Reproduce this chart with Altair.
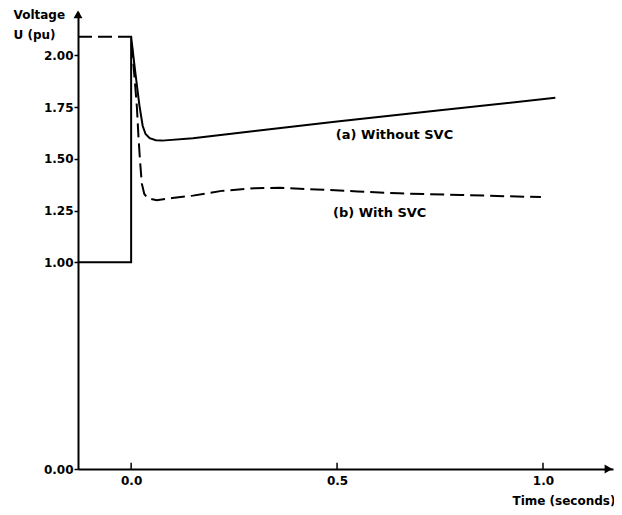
import altair as alt
import pandas as pd

# ---- data ----
# (a) Without SVC  (solid)
t_without = [-0.129, 0.0, 0.0, 0.01, 0.02, 0.028, 0.035, 0.045, 0.06, 0.075, 0.15, 0.3, 0.5, 0.75, 1.03]
u_without = [1.00, 1.00, 2.09, 1.92, 1.76, 1.66, 1.62, 1.60, 1.59, 1.588, 1.60, 1.635, 1.68, 1.735, 1.795]

# (b) With SVC  (dashed)
t_with = [-0.129, 0.0, 0.008, 0.014, 0.018, 0.022, 0.026, 0.032, 0.04, 0.062, 0.1, 0.15, 0.22, 0.3, 0.36, 0.45, 0.55, 0.65, 0.8, 0.995]
u_with = [2.09, 2.09, 1.90, 1.75, 1.60, 1.48, 1.38, 1.33, 1.31, 1.30, 1.31, 1.322, 1.345, 1.358, 1.36, 1.352, 1.342, 1.333, 1.325, 1.315]

y_ticks = [0.0, 1.0, 1.25, 1.5, 1.75, 2.0]
x_ticks = [0.0, 0.5, 1.0]

label_a = "(a) Without SVC"
label_b = "(b) With SVC"
label_a_pos = [0.782, 1.615]
label_b_pos = [0.49, 1.238]

x_domain = [-0.129, 1.17]
y_domain = [0.0, 2.21]
arrow_x_pos = [1.159, 0.0]
arrow_y_pos = [-0.129, 2.198]

FONT = "DejaVu Sans"

df_a = pd.DataFrame({"t": t_without, "u": u_without, "o": list(range(len(t_without)))})
df_b = pd.DataFrame({"t": t_with, "u": u_with, "o": list(range(len(t_with)))})
df_xt = pd.DataFrame({"t": x_ticks})

xs = alt.Scale(domain=x_domain, nice=False, zero=False)
ys = alt.Scale(domain=y_domain, nice=False, zero=False)

x_axis = alt.Axis(values=x_ticks, format=".1f", tickSize=0, labelPadding=6, grid=False,
                  domainColor="black", domainWidth=2, labelColor="black",
                  labelFont=FONT, labelFontSize=12, labelFontWeight="bold",
                  title="Time (seconds)", titleFont=FONT, titleFontSize=12, titleFontWeight="bold",
                  titleColor="black", titleAlign="right", titleAnchor="end",
                  titleX=537, titleY=31, titleBaseline="middle")
y_axis = alt.Axis(values=y_ticks, format=".2f", tickSize=4, tickWidth=1.5, tickColor="black",
                  labelPadding=1, grid=False, domainColor="black", domainWidth=2, labelColor="black",
                  labelFont=FONT, labelFontSize=12, labelFontWeight="bold",
                  title=["Voltage", "U (pu)"], titleFont=FONT, titleFontSize=12, titleFontWeight="bold",
                  titleColor="black", titleAngle=0, titleAlign="left", titleBaseline="top",
                  titleX=-65, titleY=-3, titleLineHeight=20)

line_a = alt.Chart(df_a).mark_line(color="black", strokeWidth=2).encode(
    x=alt.X("t:Q", scale=xs, axis=x_axis),
    y=alt.Y("u:Q", scale=ys, axis=y_axis),
    order="o:Q",
)
line_b = alt.Chart(df_b).mark_line(color="black", strokeWidth=2, strokeDash=[14, 6]).encode(
    x=alt.X("t:Q", scale=xs),
    y=alt.Y("u:Q", scale=ys),
    order="o:Q",
)
xticks = alt.Chart(df_xt).mark_rule(color="black", strokeWidth=1.5).encode(
    x=alt.X("t:Q", scale=xs),
    y=alt.datum(0.0),
    y2=alt.datum(0.03),
)
arrow_x = alt.Chart(pd.DataFrame({"t": [arrow_x_pos[0]], "u": [arrow_x_pos[1]]})).mark_point(
    shape="triangle-right", filled=True, size=80, color="black", opacity=1).encode(
    x=alt.X("t:Q", scale=xs), y=alt.Y("u:Q", scale=ys))
arrow_y = alt.Chart(pd.DataFrame({"t": [arrow_y_pos[0]], "u": [arrow_y_pos[1]]})).mark_point(
    shape="triangle-up", filled=True, size=80, color="black", opacity=1).encode(
    x=alt.X("t:Q", scale=xs), y=alt.Y("u:Q", scale=ys))
text_a = alt.Chart(pd.DataFrame({"t": [label_a_pos[0]], "u": [label_a_pos[1]], "s": [label_a]})).mark_text(
    align="right", baseline="middle", font=FONT, fontSize=13, fontWeight="bold", color="black").encode(
    x=alt.X("t:Q", scale=xs), y=alt.Y("u:Q", scale=ys), text="s:N")
text_b = alt.Chart(pd.DataFrame({"t": [label_b_pos[0]], "u": [label_b_pos[1]], "s": [label_b]})).mark_text(
    align="left", baseline="middle", font=FONT, fontSize=13, fontWeight="bold", color="black").encode(
    x=alt.X("t:Q", scale=xs), y=alt.Y("u:Q", scale=ys), text="s:N")

chart = alt.layer(line_a, line_b, xticks, arrow_x, arrow_y, text_a, text_b).properties(
    width=535, height=457,
    autosize=alt.AutoSizeParams(type="none"),
    padding={"left": 70, "top": 4, "right": 1, "bottom": 38},
    background="white",
).configure_view(stroke=None)

chart.save("out.html", embed_options={"renderer": "svg", "actions": False})
